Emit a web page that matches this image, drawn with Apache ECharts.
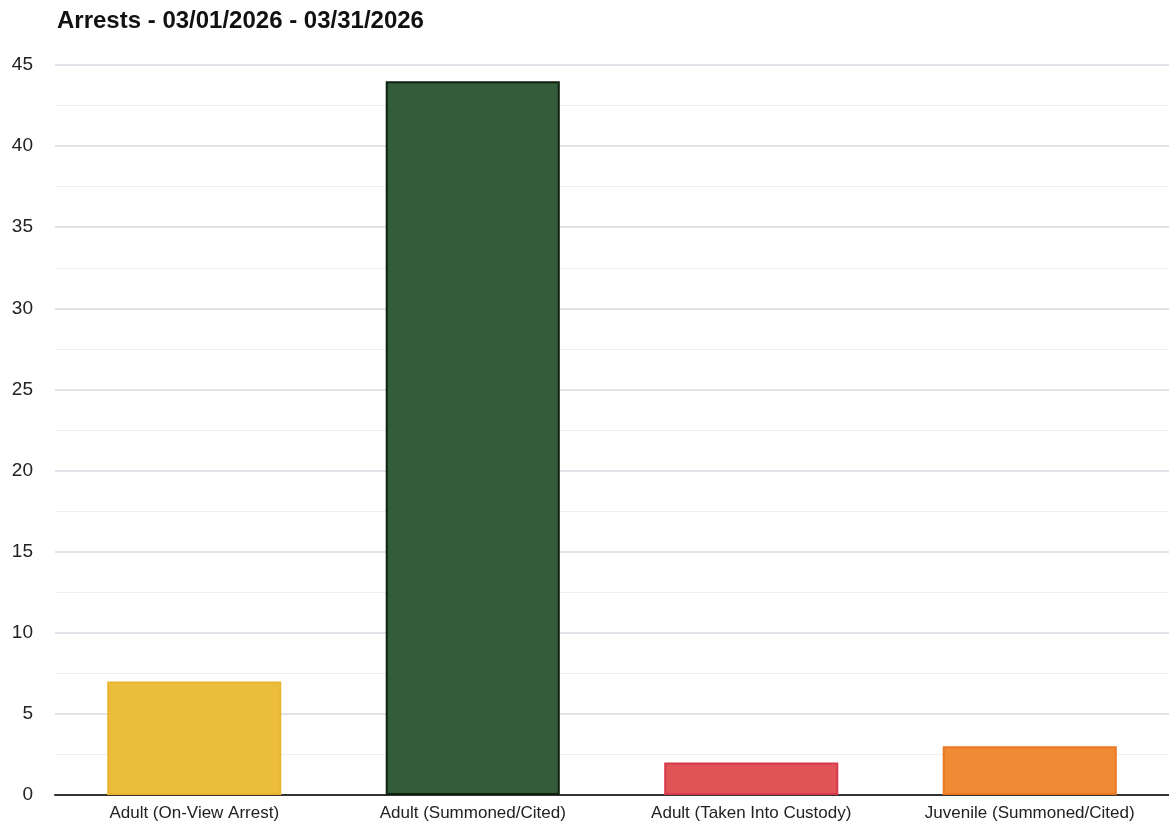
<!DOCTYPE html>
<html>
<head>
<meta charset="utf-8">
<script src="https://cdn.jsdelivr.net/npm/echarts@6/dist/echarts.min.js"></script>
<style>
  html, body { margin: 0; padding: 0; background: #fff; }
  #bar { width: 1169px; height: 824px; }
</style>
</head>
<body>
<div id="bar"></div>
<script>
var categories = ['Adult (On-View Arrest)', 'Adult (Summoned/Cited)', 'Adult (Taken Into Custody)', 'Juvenile (Summoned/Cited)'];
var values = [7, 44, 2, 3];
var barColors = ['#ecbd3a', '#335c3a', '#e05457', '#f08a34'];
var borderColors = ['#e8b530', '#10200f', '#d8394a', '#ea7a22'];

var dom = document.getElementById("bar");
var myChart = echarts.init(dom);

option = {
    title: {
        text: 'Arrests - 03/01/2026 - 03/31/2026',
        left: 52,
        top: 4,
        textStyle: {
            fontFamily: 'Liberation Sans, Arial, sans-serif',
            fontSize: 24,
            fontWeight: 'bold',
            color: '#111'
        }
    },
    grid: {
        left: 55,
        right: 0,
        top: 65,
        bottom: 29,
        containLabel: false
    },
    xAxis: {
        type: 'category',
        data: categories,
        axisTick: { show: false },
        axisLine: { lineStyle: { color: '#333', width: 2 } },
        axisLabel: {
            margin: 10,
            fontFamily: 'Liberation Sans, Arial, sans-serif',
            fontSize: 17,
            color: '#222',
            interval: 0
        }
    },
    yAxis: {
        type: 'value',
        min: 0,
        max: 45,
        interval: 5,
        axisLabel: {
            margin: 22,
            fontFamily: 'Liberation Sans, Arial, sans-serif',
            fontSize: 19,
            color: '#222'
        },
        splitLine: { lineStyle: { color: '#d8d8e0', width: 1.5 } },
        minorTick: { show: false, splitNumber: 2 },
        minorSplitLine: { show: true, lineStyle: { color: '#eeeef2', width: 1 } }
    },
    series: [
        {
            type: 'bar',
            barWidth: '62.5%',
            data: values.map(function (v, i) {
                return {
                    value: v,
                    itemStyle: {
                        color: barColors[i],
                        borderColor: borderColors[i],
                        borderWidth: 2
                    }
                };
            })
        }
    ]
};
if (option && typeof option === "object") {
    myChart.setOption(option, true);
}
</script>
</body>
</html>
